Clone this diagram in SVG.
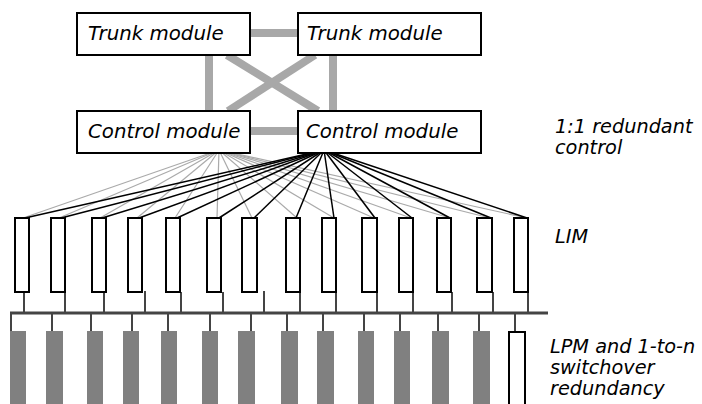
<svg xmlns="http://www.w3.org/2000/svg" width="702" height="404" viewBox="0 0 702 404">
<style>
.box{fill:#fff;stroke:#000;stroke-width:2}
.lim{fill:#fff;stroke:#000;stroke-width:2}
.lpm{fill:#808080;stroke:none}
.thick{stroke:#a8a8a8;stroke-width:8;fill:none}
.g{stroke:#aaaaaa;stroke-width:1.2;fill:none}
.k{stroke:#000;stroke-width:1.5;fill:none}
.stem{stroke:#444;stroke-width:2;fill:none}
.bus{stroke:#444;stroke-width:3;fill:none}
text{font-family:"DejaVu Sans","Liberation Sans",sans-serif;font-style:italic;font-size:19.8px;fill:#000}
.lbl{font-size:19.3px}
</style>
<rect width="702" height="404" fill="#fff"/>
<g id="connectors">
<line class="thick" x1="250" y1="33" x2="298" y2="33"/>
<line class="thick" x1="250" y1="131" x2="298" y2="131"/>
<line class="thick" x1="209" y1="55" x2="209" y2="111"/>
<line class="thick" x1="333" y1="55" x2="333" y2="111"/>
<line class="thick" x1="227" y1="55" x2="318" y2="111"/>
<line class="thick" x1="315" y1="55" x2="228" y2="111"/>
<g id="fan-gray">
<line class="g" x1="219" y1="150" x2="23" y2="218"/>
<line class="g" x1="219" y1="150" x2="59" y2="218"/>
<line class="g" x1="219" y1="150" x2="100" y2="218"/>
<line class="g" x1="219" y1="150" x2="137" y2="218"/>
<line class="g" x1="219" y1="150" x2="175" y2="218"/>
<line class="g" x1="219" y1="150" x2="217" y2="218"/>
<line class="g" x1="219" y1="150" x2="252" y2="218"/>
<line class="g" x1="219" y1="150" x2="297" y2="218"/>
<line class="g" x1="219" y1="150" x2="334" y2="218"/>
<line class="g" x1="219" y1="150" x2="374" y2="218"/>
<line class="g" x1="219" y1="150" x2="411" y2="218"/>
<line class="g" x1="219" y1="150" x2="450" y2="218"/>
<line class="g" x1="219" y1="150" x2="490" y2="218"/>
<line class="g" x1="219" y1="150" x2="527" y2="218"/>
</g>
<g id="fan-black">
<line class="k" x1="324" y1="150" x2="25" y2="218"/>
<line class="k" x1="324" y1="150" x2="61" y2="218"/>
<line class="k" x1="324" y1="150" x2="102" y2="218"/>
<line class="k" x1="324" y1="150" x2="139" y2="218"/>
<line class="k" x1="324" y1="150" x2="177" y2="218"/>
<line class="k" x1="324" y1="150" x2="219" y2="218"/>
<line class="k" x1="324" y1="150" x2="254" y2="218"/>
<line class="k" x1="324" y1="150" x2="296" y2="218"/>
<line class="k" x1="324" y1="150" x2="334" y2="218"/>
<line class="k" x1="324" y1="150" x2="375" y2="218"/>
<line class="k" x1="324" y1="150" x2="412" y2="218"/>
<line class="k" x1="324" y1="150" x2="450" y2="218"/>
<line class="k" x1="324" y1="150" x2="491" y2="218"/>
<line class="k" x1="324" y1="150" x2="527" y2="218"/>
</g>
<g id="lim-stems">
<line class="stem" x1="24" y1="292" x2="24" y2="313"/>
<line class="stem" x1="65" y1="292" x2="65" y2="313"/>
<line class="stem" x1="104" y1="292" x2="104" y2="313"/>
<line class="stem" x1="145" y1="291" x2="145" y2="313"/>
<line class="stem" x1="181" y1="292" x2="181" y2="313"/>
<line class="stem" x1="223" y1="292" x2="223" y2="313"/>
<line class="stem" x1="264" y1="291" x2="264" y2="313"/>
<line class="stem" x1="300" y1="292" x2="300" y2="313"/>
<line class="stem" x1="336" y1="292" x2="336" y2="313"/>
<line class="stem" x1="377" y1="292" x2="377" y2="313"/>
<line class="stem" x1="413" y1="292" x2="413" y2="313"/>
<line class="stem" x1="452" y1="292" x2="452" y2="313"/>
<line class="stem" x1="493" y1="292" x2="493" y2="313"/>
<line class="stem" x1="528" y1="292" x2="528" y2="313"/>
</g>
<line id="bus" class="bus" x1="10" y1="313" x2="548" y2="313"/>
<g id="lpm-stems">
<line class="stem" x1="11" y1="313" x2="11" y2="331"/>
<line class="stem" x1="52" y1="313" x2="52" y2="331"/>
<line class="stem" x1="91" y1="313" x2="91" y2="331"/>
<line class="stem" x1="132" y1="313" x2="132" y2="331"/>
<line class="stem" x1="168" y1="313" x2="168" y2="331"/>
<line class="stem" x1="210" y1="313" x2="210" y2="331"/>
<line class="stem" x1="251" y1="313" x2="251" y2="331"/>
<line class="stem" x1="287" y1="313" x2="287" y2="331"/>
<line class="stem" x1="323" y1="313" x2="323" y2="331"/>
<line class="stem" x1="364" y1="313" x2="364" y2="331"/>
<line class="stem" x1="400" y1="313" x2="400" y2="331"/>
<line class="stem" x1="438" y1="313" x2="438" y2="331"/>
<line class="stem" x1="479" y1="313" x2="479" y2="331"/>
<line class="stem" x1="515" y1="313" x2="515" y2="332"/>
</g>
</g>
<g id="trunk1"><rect class="box" x="77" y="13" width="173" height="42"/><text x="88" y="40">Trunk module</text></g>
<g id="trunk2"><rect class="box" x="298" y="13" width="183" height="42"/><text x="307" y="40">Trunk module</text></g>
<g id="control1"><rect class="box" x="77" y="111" width="173" height="42"/><text x="88" y="138">Control module</text></g>
<g id="control2"><rect class="box" x="298" y="111" width="183" height="42"/><text x="306" y="138">Control module</text></g>
<g id="lims">
<rect class="lim" x="15" y="218" width="14" height="74"/>
<rect class="lim" x="51" y="218" width="14" height="74"/>
<rect class="lim" x="92" y="218" width="14" height="74"/>
<rect class="lim" x="128" y="218" width="14" height="74"/>
<rect class="lim" x="166" y="218" width="14" height="74"/>
<rect class="lim" x="207" y="218" width="14" height="74"/>
<rect class="lim" x="242" y="218" width="15" height="74"/>
<rect class="lim" x="286" y="218" width="14" height="74"/>
<rect class="lim" x="322" y="218" width="14" height="74"/>
<rect class="lim" x="362" y="218" width="15" height="74"/>
<rect class="lim" x="399" y="218" width="14" height="74"/>
<rect class="lim" x="437" y="218" width="14" height="74"/>
<rect class="lim" x="477" y="218" width="15" height="74"/>
<rect class="lim" x="514" y="218" width="14" height="74"/>
</g>
<g id="lpms">
<rect class="lpm" x="10" y="331" width="16" height="73"/>
<rect class="lpm" x="46" y="331" width="17" height="73"/>
<rect class="lpm" x="87" y="331" width="16" height="73"/>
<rect class="lpm" x="123" y="331" width="16" height="73"/>
<rect class="lpm" x="161" y="331" width="16" height="73"/>
<rect class="lpm" x="202" y="331" width="16" height="73"/>
<rect class="lpm" x="238" y="331" width="17" height="73"/>
<rect class="lpm" x="281" y="331" width="17" height="73"/>
<rect class="lpm" x="317" y="331" width="17" height="73"/>
<rect class="lpm" x="358" y="331" width="16" height="73"/>
<rect class="lpm" x="394" y="331" width="16" height="73"/>
<rect class="lpm" x="432" y="331" width="17" height="73"/>
<rect class="lpm" x="473" y="331" width="17" height="73"/>
<rect class="lim" x="509" y="332" width="16" height="80"/>
</g>
<g id="labels">
<text class="lbl" x="555" y="133">1:1 redundant</text>
<text class="lbl" x="555" y="154">control</text>
<text class="lbl" x="555" y="243">LIM</text>
<text class="lbl" x="550" y="353">LPM and 1-to-n</text>
<text class="lbl" x="550" y="374">switchover</text>
<text class="lbl" x="550" y="395">redundancy</text>
</g>
</svg>
